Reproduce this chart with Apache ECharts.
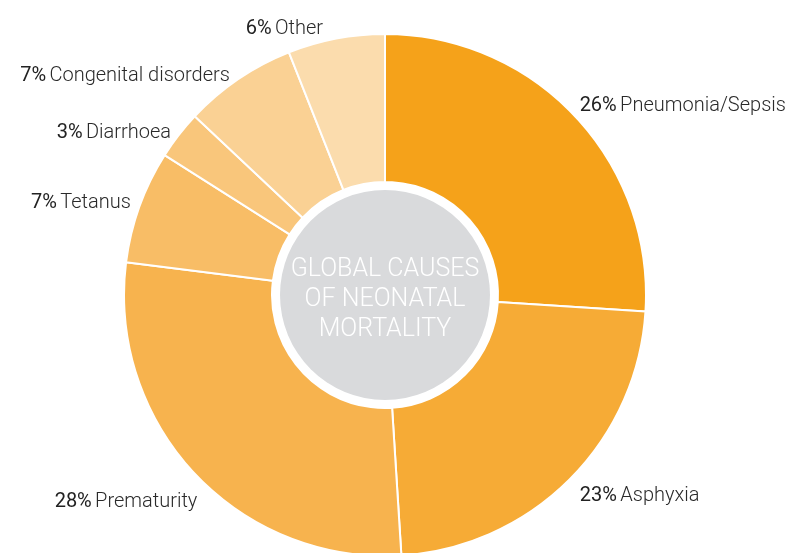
<!DOCTYPE html>
<html><head><meta charset="utf-8">
<script src="https://cdn.jsdelivr.net/npm/echarts@6/dist/echarts.min.js"></script>
<style>html,body{margin:0;padding:0;background:#fff}#c{width:791px;height:553px}</style>
</head><body><div id="c"></div>
<script>
const causes = ['Pneumonia/Sepsis','Asphyxia','Prematurity','Tetanus','Diarrhoea','Congenital disorders','Other'];
const shares = [26,23,28,7,3,7,6];
const sliceColors = ['#F5A21A','#F6AB36','#F7B34E','#F8BD66','#F9C67B','#FAD194','#FBDCAD'];
const centerTitle = 'GLOBAL CAUSES\nOF NEONATAL\nMORTALITY';
// small label nudges (px) to match the reference placement
const labelNudge = [[-2,-6],[4,12],[9,24],[-1,-2],[-1,2],[-3,2],[-10,-4]];

const chart = echarts.init(document.getElementById('c'));
chart.setOption({
  animation:false,
  series:[{
    type:'pie', center:[385,295], radius:[113,261], startAngle:90, clockwise:true,
    avoidLabelOverlap:false, silent:true,
    itemStyle:{borderColor:'#fff', borderWidth:2},
    label:{show:true, position:'outside', formatter:p=>'{p|'+p.value+'%} {n|'+p.name+'}',
      distanceToLabelLine:2,
      rich:{p:{fontFamily:'Roboto',fontSize:20,fontWeight:400,color:'#222'},
            n:{fontFamily:'Roboto',fontSize:20,fontWeight:300,color:'#2a2a2a'}}},
    labelLine:{show:false,length:6,length2:0},
    labelLayout:function(p){ const d=labelNudge[p.dataIndex]; return {dx:d[0],dy:d[1]}; },
    data:causes.map((c,i)=>({name:c,value:shares[i],itemStyle:{color:sliceColors[i]}}))
  },{
    type:'pie', center:[385,295], radius:[0,105], silent:true,
    label:{show:true, position:'center', formatter:centerTitle, color:'#fff',
      fontFamily:'Roboto', fontWeight:300, fontSize:25, lineHeight:30},
    labelLayout:{dy:5},
    labelLine:{show:false},
    data:[{name:'c',value:1,itemStyle:{color:'#D9DADC'}}]
  }]
});
</script></body></html>
